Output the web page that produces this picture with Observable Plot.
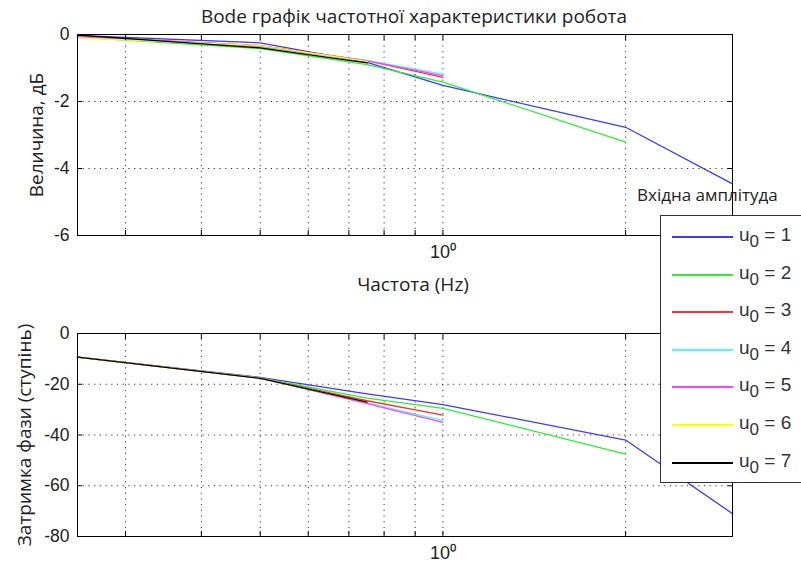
<!DOCTYPE html>
<html>
<head>
<meta charset="utf-8">
<script src="https://cdn.jsdelivr.net/npm/d3@7"></script>
<script src="https://cdn.jsdelivr.net/npm/@observablehq/plot@0.6"></script>
<style>
  body { margin: 0; background: #fff; }
  #fig { position: relative; width: 801px; height: 569px; overflow: hidden; background: #fff; }
  #title { position: absolute; left: 0; top: 3px; width: 828px; text-align: center;
           font: 19px "Open Sans", sans-serif; color: #222; white-space: nowrap; }
  #top { position: absolute; left: 0; top: 0; }
  #bottom { position: absolute; left: 0; top: 300px; }
  #legend-title { position: absolute; left: 637px; top: 183px; font: 17px "Open Sans", sans-serif; color: #222; white-space: nowrap; }
  #legend { position: absolute; left: 660px; top: 215px; width: 145px; height: 268px; box-sizing: border-box;
            background: #fff; border: 1px solid #333; }
  .entry { position: absolute; left: 11px; height: 20px; white-space: nowrap; }
  .entry .swatch { position: absolute; left: 0; top: 10px; width: 61px; height: 2px; }
  .entry .txt { position: absolute; left: 67px; top: -2px; font: 19px "Liberation Sans", Arial, sans-serif; color: #333; }
  .entry sub { font-size: 17px; vertical-align: -6px; line-height: 0; }
</style>
</head>
<body>
<div id="fig">
  <div id="top"></div>
  <div id="bottom"></div>
  <div id="title">Bode графік частотної характеристики робота</div>
  <div id="legend-title">Вхідна амплітуда</div>
  <div id="legend"></div>
</div>
<script>
// Test frequencies (Hz) and input amplitudes u0
const frequency = [0.25, 0.5, 0.75, 1, 2, 3];
const amplitudes = [1, 2, 3, 4, 5, 6, 7];

// Magnitude response, dB (each series stops at its highest tested frequency)
const gain1 = [-0.03, -0.25, -0.83, -1.52, -2.77, -4.46];
const gain2 = [-0.08, -0.42, -0.90, -1.42, -3.21];
const gain3 = [-0.06, -0.33, -0.78, -1.28];
const gain4 = [-0.08, -0.37, -0.77, -1.18];
const gain5 = [-0.06, -0.35, -0.79, -1.23];
const gain6 = [-0.10, -0.33, -0.80];
const gain7 = [-0.02, -0.40, -0.85];

// Phase lag, degrees
const phase1 = [-9.3, -17.3, -23.8, -28.0, -42.0, -71.0];
const phase2 = [-9.3, -17.5, -25.5, -29.5, -47.5];
const phase3 = [-9.3, -17.6, -26.5, -32.2];
const phase4 = [-9.3, -17.6, -27.2, -34.3];
const phase5 = [-9.3, -17.6, -27.6, -35.0];
const phase6 = [-9.3, -17.7, -27.0];
const phase7 = [-9.3, -17.7, -27.0];

// Axis ticks and grid positions
const freqGrid = [0.3, 0.4, 0.5, 0.6, 0.7, 0.8, 0.9, 1, 2];
const freqTicks = [0.3, 0.4, 0.5, 0.6, 0.7, 0.8, 0.9, 1, 2, 3];
const gainTicks = [0, -2, -4, -6];
const phaseTicks = [0, -20, -40, -60, -80];

const lineColors = ["#3a3aff", "#2cf02c", "#ff3030", "#40ffff", "#ff40ff", "#ffff00", "#000000"];

const gains = [gain1, gain2, gain3, gain4, gain5, gain6, gain7];
const phases = [phase1, phase2, phase3, phase4, phase5, phase6, phase7];
const rows = [];
amplitudes.forEach((u, i) => {
  gains[i].forEach((g, j) => rows.push({u, f: frequency[j], gain: g, phase: phases[i][j]}));
});

const tickFont = "Liberation Sans, Arial, sans-serif";
const labelFont = "Open Sans, sans-serif";
const grid = {stroke: "#000", strokeOpacity: 0.8, strokeDasharray: "1.2,4.5"};

function panel({channel, domain, ticks, label, labelDx, xLabel, height, marginTop, marginBottom}) {
  const inner = ticks.slice(1, -1);
  const marks = [
    Plot.gridX(freqGrid, grid),
    Plot.gridY(inner, grid),
    Plot.line(rows, {x: "f", y: channel, z: "u", stroke: "u", strokeWidth: 1.3}),
    Plot.frame({stroke: "#000", strokeWidth: 1}),
    Plot.axisX(freqTicks, {anchor: "bottom", tickSize: -5, tickFormat: () => "", label: null}),
    Plot.axisX(freqTicks, {anchor: "top", tickSize: -5, tickFormat: () => "", label: null}),
    Plot.axisY(ticks, {anchor: "left", tickSize: -5, tickFormat: () => "", label: null}),
    Plot.axisY(ticks, {anchor: "right", tickSize: -5, tickFormat: () => "", label: null}),
    Plot.axisX([1], {anchor: "bottom", tickSize: 0, tickPadding: 10, tickFormat: () => "10⁰", label: null,
                     fontSize: 18, fontFamily: tickFont, fill: "#222"}),
    Plot.axisY(ticks, {anchor: "left", tickSize: 0, tickPadding: 8, label: null, tickFormat: (d) => `${d}`,
                       fontSize: 17.5, fontFamily: tickFont, fill: "#222"}),
    Plot.text([label], {frameAnchor: "left", rotate: -90, dx: labelDx, textAnchor: "middle",
                        fontSize: 19, fontFamily: labelFont, fill: "#222"})
  ];
  if (xLabel) marks.push(Plot.text([xLabel], {frameAnchor: "bottom", dx: 8, dy: 55, fontSize: 19, fontFamily: labelFont, fill: "#222"}));
  return Plot.plot({
    width: 801, height, marginLeft: 77, marginRight: 69, marginTop, marginBottom,
    style: {background: "transparent", overflow: "visible", fontFamily: tickFont},
    x: {type: "log", domain: [0.25, 3], axis: null, label: null},
    y: {domain: [domain[0], domain[1]], axis: null, label: null},
    color: {domain: amplitudes, range: lineColors},
    marks
  });
}

document.getElementById("top").append(panel({
  channel: "gain", domain: [-6, 0], ticks: gainTicks, label: "Величина, дБ", labelDx: -41,
  xLabel: "Частота (Hz)", height: 300, marginTop: 34, marginBottom: 65
}));
document.getElementById("bottom").append(panel({
  channel: "phase", domain: [-80, 0], ticks: phaseTicks, label: "Затримка фази (ступінь)", labelDx: -53,
  height: 269, marginTop: 33, marginBottom: 33
}));

// Legend entries
const legend = document.getElementById("legend");
amplitudes.forEach((u, i) => {
  const e = document.createElement("div");
  e.className = "entry";
  e.style.top = Math.round(10 + i * 37.6) + "px";
  e.innerHTML = `<div class="swatch" style="background:${lineColors[i]}"></div><div class="txt">u<sub>0</sub> = ${u}</div>`;
  legend.append(e);
});
</script>
</body>
</html>
